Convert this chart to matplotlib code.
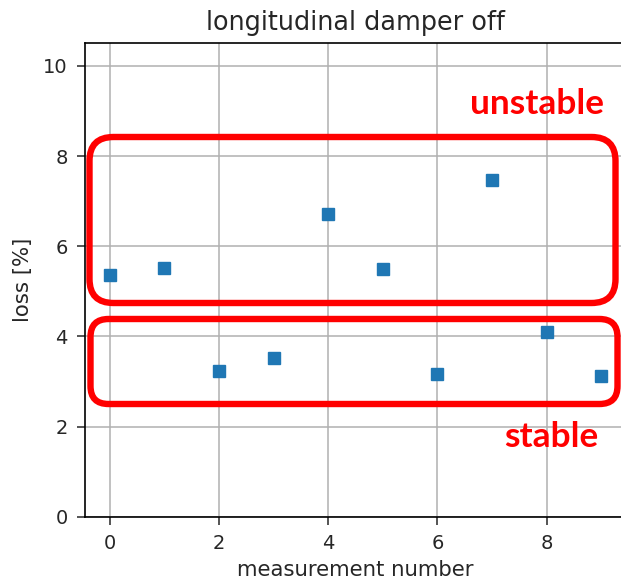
import matplotlib
matplotlib.use('Agg')
import matplotlib.pyplot as plt
from matplotlib.patches import FancyBboxPatch
from matplotlib.transforms import IdentityTransform

# measured loss per measurement
measurement = [0, 1, 2, 3, 4, 5, 6, 7, 8, 9]
loss = [5.36, 5.52, 3.23, 3.51, 6.71, 5.49, 3.16, 7.47, 4.09, 3.13]

fig = plt.figure(figsize=(6.21, 5.8), dpi=100)
ax = fig.add_axes([85 / 621, 63.3 / 580, 541 / 621, 473.4 / 580])

ax.plot(measurement, loss, 's', color='#1f77b4', markersize=9, zorder=3)
ax.set_ylim(0, 10.5)
ax.set_xlim(-0.45, 9.45)
ax.set_xticks([0, 2, 4, 6, 8])
ax.set_yticks([0, 2, 4, 6, 8, 10])
ax.grid(True, color='#b0b0b0', linewidth=1.1)
ax.tick_params(labelsize=14, length=5.5, width=1.1, pad=7, colors='#262626')
for sp in ax.spines.values():
    sp.set_linewidth(1.2)
ax.set_xlabel('measurement number', fontsize=15.3, color='#262626', labelpad=5)
ax.set_ylabel('loss [%]', fontsize=15.3, color='#262626', labelpad=7)
ax.set_title('longitudinal damper off', fontsize=18.4, color='#262626', pad=9.8)

# red highlight boxes (pixel coordinates, origin bottom-left)
boxes = [(89.5, 277, 526, 166, 24), (90.5, 176, 527, 85, 18)]
for x0, y0, w, h, r in boxes:
    p = FancyBboxPatch((x0, y0), w, h,
                       boxstyle=f'round,pad=0,rounding_size={r}',
                       transform=IdentityTransform(), fill=False,
                       edgecolor='#ff0000', linewidth=4.6, zorder=5)
    fig.patches.append(p)

fig.text(537.5 / 621, 1 - 104 / 580, 'unstable', color='#ff0000', fontsize=25.4,
         fontweight='bold', family='Lato', ha='center', va='center')
fig.text(551.5 / 621, 1 - 437 / 580, 'stable', color='#ff0000', fontsize=25.4,
         fontweight='bold', family='Lato', ha='center', va='center')

fig.savefig('out.png', dpi=100)
